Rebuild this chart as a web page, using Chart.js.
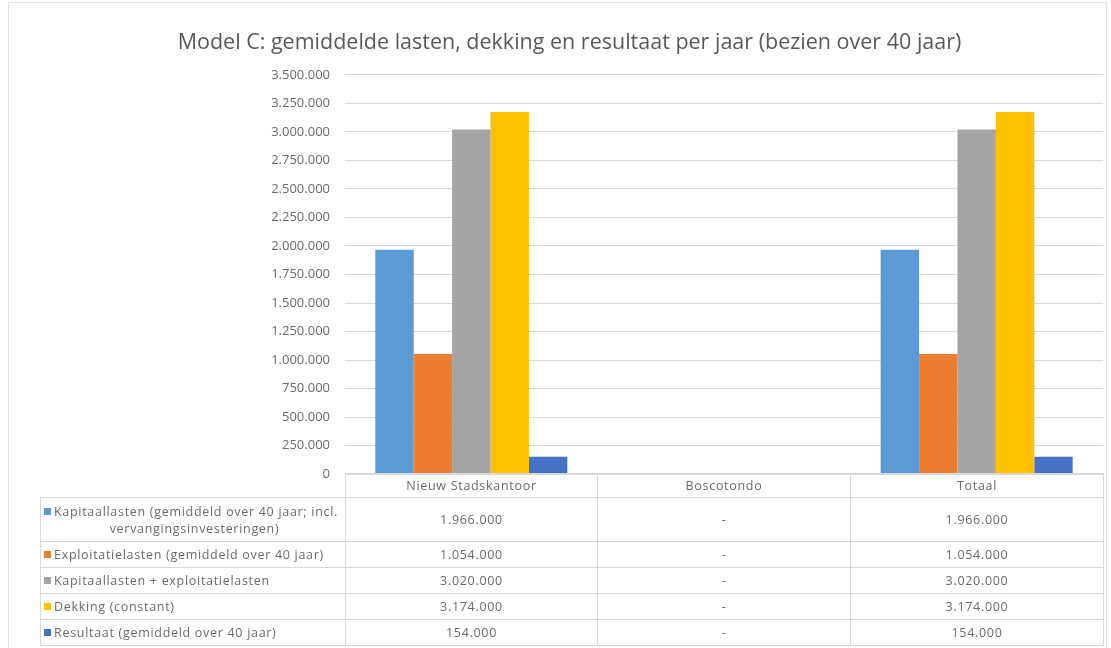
<!DOCTYPE html>
<html>
<head>
<meta charset="utf-8">
<script src="https://cdn.jsdelivr.net/npm/chart.js@4/dist/chart.umd.min.js"></script>
<style>
  html, body { margin: 0; padding: 0; background: #fff; }
  body { width: 1111px; height: 648px; position: relative; overflow: hidden; font-family: "Open Sans", sans-serif; }
  .frame { position: absolute; left: 8px; top: 2px; width: 1097px; height: 660px; border: 1px solid #e3e3e3; }
  #wrap { position: absolute; left: 0; top: 0; width: 1111px; height: 497px; }
  table.dt { position: absolute; left: 40px; top: 473px; border-collapse: collapse; font-size: 12.5px; letter-spacing: 0.7px; color: #6b6b6b; }
  table.dt td { border: 1px solid #d9d9d9; padding: 0; text-align: center; }
  table.dt td.lbl { text-align: left; padding-left: 3px; white-space: nowrap; }
  table.dt tr.head td { height: 23px; }
  table.dt tr.head td.empty { border: none; border-right: 1px solid #d9d9d9; }
  .key { display: inline-block; width: 7px; height: 7px; margin-right: 3px; vertical-align: 1px; }
  .l2 { text-align: center; }
</style>
</head>
<body>
<div class="frame"></div>
<div id="wrap"><canvas id="c"></canvas></div>
<table class="dt" id="dt"></table>
<script>
// data
const categories = ["Nieuw Stadskantoor", "Boscotondo", "Totaal"];
const seriesNames = [
  "Kapitaallasten (gemiddeld over 40 jaar; incl. vervangingsinvesteringen)",
  "Exploitatielasten (gemiddeld over 40 jaar)",
  "Kapitaallasten + exploitatielasten",
  "Dekking (constant)",
  "Resultaat (gemiddeld over 40 jaar)"
];
const kapitaallasten = [1966000, null, 1966000];
const exploitatielasten = [1054000, null, 1054000];
const kapPlusExpl = [3020000, null, 3020000];
const dekking = [3174000, null, 3174000];
const resultaat = [154000, null, 154000];
const colors = ["#5B9BD5", "#ED7D31", "#A5A5A5", "#FFC000", "#4472C4"];
const yTicks = [0, 250000, 500000, 750000, 1000000, 1250000, 1500000, 1750000, 2000000, 2250000, 2500000, 2750000, 3000000, 3250000, 3500000];

const allSeries = [kapitaallasten, exploitatielasten, kapPlusExpl, dekking, resultaat];

function fmt(v) {
  if (v === null || v === undefined) return "-";
  return String(v).replace(/\B(?=(\d{3})+(?!\d))/g, ".");
}

const ctx = document.getElementById("c");
new Chart(ctx, {
  type: "bar",
  data: {
    labels: categories,
    datasets: allSeries.map((d, i) => ({
      label: seriesNames[i],
      data: d,
      backgroundColor: colors[i],
      borderWidth: 0,
      categoryPercentage: 0.76,
      barPercentage: 1
    }))
  },
  options: {
    responsive: true,
    maintainAspectRatio: false,
    animation: false,
    layout: { padding: { left: 36, right: 8, top: 0, bottom: 0 } },
    plugins: {
      legend: { display: false },
      tooltip: { enabled: false },
      title: {
        display: true,
        text: "Model C: gemiddelde lasten, dekking en resultaat per jaar (bezien over 40 jaar)",
        color: "#595959",
        font: { family: "Open Sans", size: 21.5, weight: "normal" },
        padding: { top: 30, bottom: 19 }
      }
    },
    scales: {
      x: { display: false },
      y: {
        min: 0,
        max: 3500000,
        afterBuildTicks: (s) => { s.ticks = yTicks.map(v => ({ value: v })); },
        afterFit: (s) => { s.width = 309; },
        border: { display: false },
        grid: { color: "#d9d9d9", drawTicks: false },
        ticks: {
          color: "#6b6b6b",
          font: { family: "Open Sans", size: 13 },
          padding: 15,
          callback: (v) => fmt(v)
        }
      }
    }
  }
});

// data table under the plot
const tbl = document.getElementById("dt");
let html = '<colgroup><col style="width:305px"><col style="width:252px"><col style="width:253px"><col style="width:253px"></colgroup>';
html += '<tr class="head"><td class="empty"></td>' + categories.map(c => "<td>" + c + "</td>").join("") + "</tr>";
const rowHeights = [44, 26, 26, 26, 26];
seriesNames.forEach((name, i) => {
  let label;
  if (i === 0) {
    label = '<span class="key" style="background:' + colors[i] + '"></span>Kapitaallasten (gemiddeld over 40 jaar; incl.<div class="l2">vervangingsinvesteringen)</div>';
  } else {
    label = '<span class="key" style="background:' + colors[i] + '"></span>' + name;
  }
  html += '<tr style="height:' + rowHeights[i] + 'px"><td class="lbl">' + label + "</td>" +
    allSeries[i].map(v => "<td>" + fmt(v) + "</td>").join("") + "</tr>";
});
tbl.innerHTML = html;
</script>
</body>
</html>
